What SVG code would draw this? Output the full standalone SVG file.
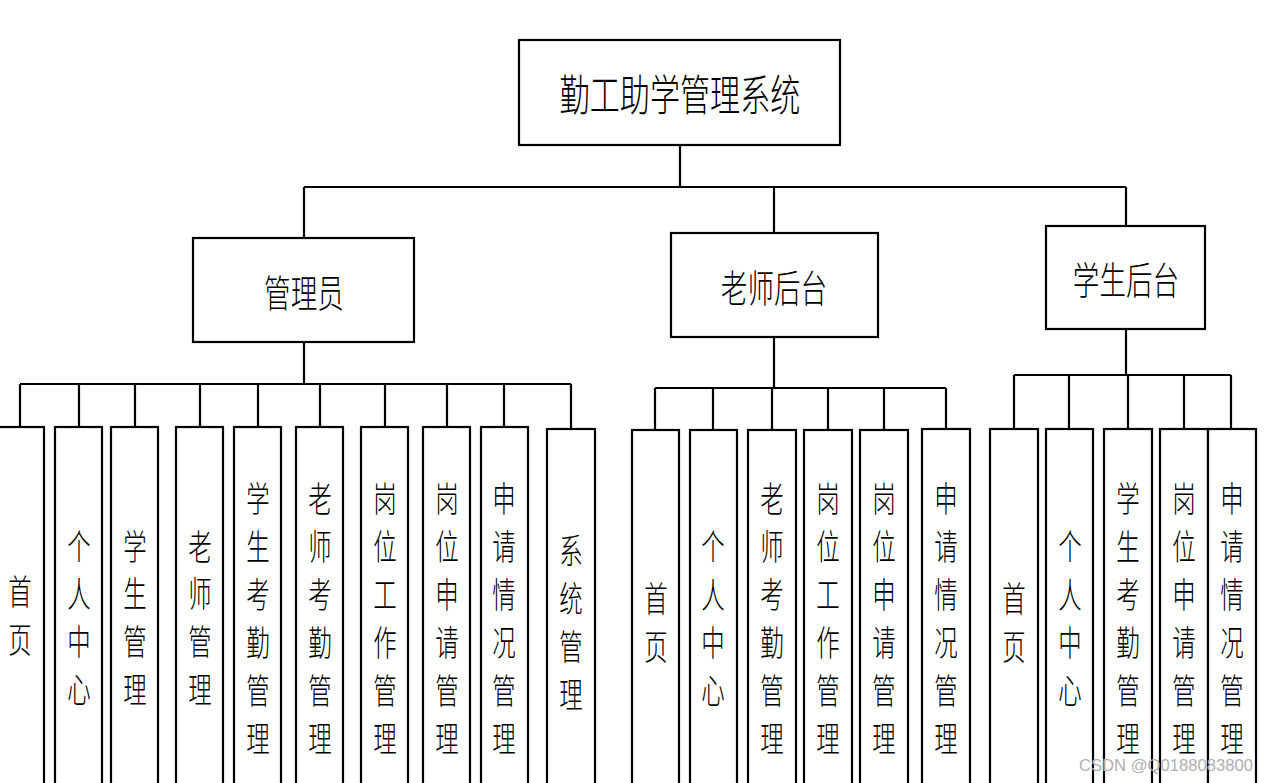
<svg xmlns="http://www.w3.org/2000/svg" width="1269" height="783" viewBox="0 0 1269 783">
<style>
.box{fill:#fff;stroke:#000;stroke-width:2.2}
.ln{fill:none;stroke:#000;stroke-width:2.2}
text{font-family:"Noto Sans CJK SC","Noto Sans CJK JP",sans-serif;fill:#000;text-anchor:middle;dominant-baseline:central;font-weight:300}
.lf{font-size:35px}
.md{font-size:38px}
.tp{font-size:43px}
.wm{font-family:"Liberation Sans",Arial,sans-serif;font-size:17px;fill:#b0b0b0;dominant-baseline:auto;text-anchor:start;font-weight:normal}
</style>
<rect width="1269" height="783" fill="#fff"/>
<g id="connectors">
<path class="ln" d="M680 145V187M304 187H1126M304 187V238M774 187V233M1126 187V226"/>
<path class="ln" d="M304 342V384M20 384H571M20 384V427M79 384V427M135 384V427M200 384V427M258 384V427M320 384V427M385 384V427M447 384V427M504 384V427M571 384V429"/>
<path class="ln" d="M774 337V388M655 388H946M655 388V430M713 388V430M772 388V430M828 388V430M884 388V430M946 388V429"/>
<path class="ln" d="M1126 329V375M1014 375H1231M1014 375V429M1069 375V429M1128 375V429M1184 375V429M1231 375V429"/>
</g>
<g id="root"><rect class="box" x="519" y="40" width="321" height="105"/><g transform="translate(680 0) scale(0.70 1)"><text class="tp" x="0" y="92">勤工助学管理系统</text></g></g>
<g id="admin"><rect class="box" x="193" y="238" width="221" height="104"/><g transform="translate(304 0) scale(0.70 1)"><text class="md" x="0" y="290">管理员</text></g></g>
<g id="teacher"><rect class="box" x="671" y="233" width="207" height="104"/><g transform="translate(774 0) scale(0.70 1)"><text class="md" x="0" y="285">老师后台</text></g></g>
<g id="student"><rect class="box" x="1046" y="226" width="159" height="103"/><g transform="translate(1126 0) scale(0.70 1)"><text class="md" x="0" y="277">学生后台</text></g></g>

<g id="a1"><rect class="box" x="-4" y="427" width="48" height="380"/><g transform="translate(20 0) scale(0.67 1)"><text class="lf"><tspan x="0" y="590">首</tspan><tspan x="0" y="638">页</tspan></text></g></g>
<g id="a2"><rect class="box" x="55" y="427" width="47" height="380"/><g transform="translate(79 0) scale(0.67 1)"><text class="lf"><tspan x="0" y="545">个</tspan><tspan x="0" y="592">人</tspan><tspan x="0" y="640">中</tspan><tspan x="0" y="688">心</tspan></text></g></g>
<g id="a3"><rect class="box" x="111" y="427" width="47" height="380"/><g transform="translate(135 0) scale(0.67 1)"><text class="lf"><tspan x="0" y="545">学</tspan><tspan x="0" y="592">生</tspan><tspan x="0" y="640">管</tspan><tspan x="0" y="688">理</tspan></text></g></g>
<g id="a4"><rect class="box" x="176" y="427" width="47" height="380"/><g transform="translate(200 0) scale(0.67 1)"><text class="lf"><tspan x="0" y="545">老</tspan><tspan x="0" y="592">师</tspan><tspan x="0" y="640">管</tspan><tspan x="0" y="688">理</tspan></text></g></g>
<g id="a5"><rect class="box" x="234" y="427" width="47" height="380"/><g transform="translate(258 0) scale(0.67 1)"><text class="lf"><tspan x="0" y="497">学</tspan><tspan x="0" y="545">生</tspan><tspan x="0" y="593">考</tspan><tspan x="0" y="641">勤</tspan><tspan x="0" y="689">管</tspan><tspan x="0" y="737">理</tspan></text></g></g>
<g id="a6"><rect class="box" x="296" y="427" width="47" height="380"/><g transform="translate(320 0) scale(0.67 1)"><text class="lf"><tspan x="0" y="497">老</tspan><tspan x="0" y="545">师</tspan><tspan x="0" y="593">考</tspan><tspan x="0" y="641">勤</tspan><tspan x="0" y="689">管</tspan><tspan x="0" y="737">理</tspan></text></g></g>
<g id="a7"><rect class="box" x="361" y="427" width="47" height="380"/><g transform="translate(385 0) scale(0.67 1)"><text class="lf"><tspan x="0" y="497">岗</tspan><tspan x="0" y="545">位</tspan><tspan x="0" y="593">工</tspan><tspan x="0" y="641">作</tspan><tspan x="0" y="689">管</tspan><tspan x="0" y="737">理</tspan></text></g></g>
<g id="a8"><rect class="box" x="423" y="427" width="47" height="380"/><g transform="translate(447 0) scale(0.67 1)"><text class="lf"><tspan x="0" y="497">岗</tspan><tspan x="0" y="545">位</tspan><tspan x="0" y="593">申</tspan><tspan x="0" y="641">请</tspan><tspan x="0" y="689">管</tspan><tspan x="0" y="737">理</tspan></text></g></g>
<g id="a9"><rect class="box" x="481" y="427" width="47" height="380"/><g transform="translate(504 0) scale(0.67 1)"><text class="lf"><tspan x="0" y="497">申</tspan><tspan x="0" y="545">请</tspan><tspan x="0" y="593">情</tspan><tspan x="0" y="641">况</tspan><tspan x="0" y="689">管</tspan><tspan x="0" y="737">理</tspan></text></g></g>
<g id="a10"><rect class="box" x="547" y="429" width="48" height="380"/><g transform="translate(571 0) scale(0.67 1)"><text class="lf"><tspan x="0" y="549">系</tspan><tspan x="0" y="597">统</tspan><tspan x="0" y="645">管</tspan><tspan x="0" y="693">理</tspan></text></g></g>

<g id="t1"><rect class="box" x="632" y="430" width="47" height="380"/><g transform="translate(656 0) scale(0.67 1)"><text class="lf"><tspan x="0" y="597">首</tspan><tspan x="0" y="645">页</tspan></text></g></g>
<g id="t2"><rect class="box" x="690" y="430" width="47" height="380"/><g transform="translate(713 0) scale(0.67 1)"><text class="lf"><tspan x="0" y="545">个</tspan><tspan x="0" y="593">人</tspan><tspan x="0" y="641">中</tspan><tspan x="0" y="689">心</tspan></text></g></g>
<g id="t3"><rect class="box" x="748" y="430" width="48" height="380"/><g transform="translate(772 0) scale(0.67 1)"><text class="lf"><tspan x="0" y="497">老</tspan><tspan x="0" y="545">师</tspan><tspan x="0" y="593">考</tspan><tspan x="0" y="641">勤</tspan><tspan x="0" y="689">管</tspan><tspan x="0" y="737">理</tspan></text></g></g>
<g id="t4"><rect class="box" x="804" y="430" width="48" height="380"/><g transform="translate(828 0) scale(0.67 1)"><text class="lf"><tspan x="0" y="497">岗</tspan><tspan x="0" y="545">位</tspan><tspan x="0" y="593">工</tspan><tspan x="0" y="641">作</tspan><tspan x="0" y="689">管</tspan><tspan x="0" y="737">理</tspan></text></g></g>
<g id="t5"><rect class="box" x="860" y="430" width="48" height="380"/><g transform="translate(884 0) scale(0.67 1)"><text class="lf"><tspan x="0" y="497">岗</tspan><tspan x="0" y="545">位</tspan><tspan x="0" y="593">申</tspan><tspan x="0" y="641">请</tspan><tspan x="0" y="689">管</tspan><tspan x="0" y="737">理</tspan></text></g></g>
<g id="t6"><rect class="box" x="922" y="429" width="48" height="380"/><g transform="translate(946 0) scale(0.67 1)"><text class="lf"><tspan x="0" y="497">申</tspan><tspan x="0" y="545">请</tspan><tspan x="0" y="593">情</tspan><tspan x="0" y="641">况</tspan><tspan x="0" y="689">管</tspan><tspan x="0" y="737">理</tspan></text></g></g>

<g id="s1"><rect class="box" x="990" y="429" width="48" height="380"/><g transform="translate(1014 0) scale(0.67 1)"><text class="lf"><tspan x="0" y="597">首</tspan><tspan x="0" y="645">页</tspan></text></g></g>
<g id="s2"><rect class="box" x="1046" y="429" width="47" height="380"/><g transform="translate(1070 0) scale(0.67 1)"><text class="lf"><tspan x="0" y="545">个</tspan><tspan x="0" y="593">人</tspan><tspan x="0" y="641">中</tspan><tspan x="0" y="689">心</tspan></text></g></g>
<g id="s3"><rect class="box" x="1104" y="429" width="48" height="380"/><g transform="translate(1128 0) scale(0.67 1)"><text class="lf"><tspan x="0" y="497">学</tspan><tspan x="0" y="545">生</tspan><tspan x="0" y="593">考</tspan><tspan x="0" y="641">勤</tspan><tspan x="0" y="689">管</tspan><tspan x="0" y="737">理</tspan></text></g></g>
<g id="s4"><rect class="box" x="1160" y="429" width="48" height="380"/><g transform="translate(1184 0) scale(0.67 1)"><text class="lf"><tspan x="0" y="497">岗</tspan><tspan x="0" y="545">位</tspan><tspan x="0" y="593">申</tspan><tspan x="0" y="641">请</tspan><tspan x="0" y="689">管</tspan><tspan x="0" y="737">理</tspan></text></g></g>
<g id="s5"><rect class="box" x="1208" y="429" width="48" height="380"/><g transform="translate(1232 0) scale(0.67 1)"><text class="lf"><tspan x="0" y="497">申</tspan><tspan x="0" y="545">请</tspan><tspan x="0" y="593">情</tspan><tspan x="0" y="641">况</tspan><tspan x="0" y="689">管</tspan><tspan x="0" y="737">理</tspan></text></g></g>

<text class="wm" x="1079" y="771" textLength="174" lengthAdjust="spacingAndGlyphs">CSDN @Q0188083800</text>
</svg>
